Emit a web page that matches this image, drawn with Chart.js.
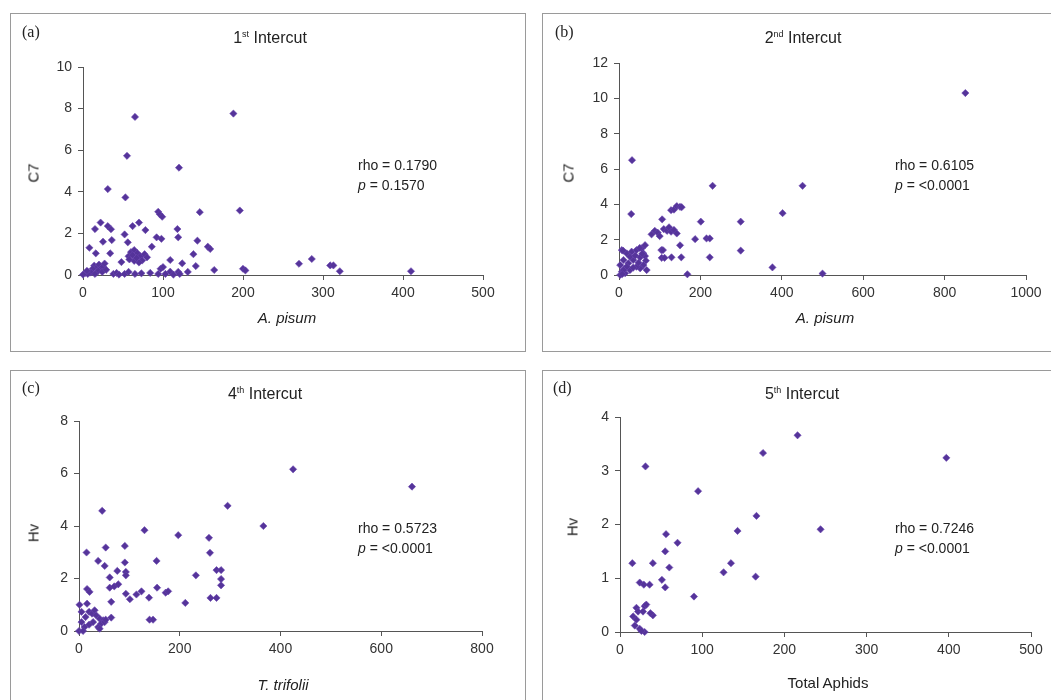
<!DOCTYPE html>
<html>
<head>
<meta charset="utf-8">
<script src="https://cdn.jsdelivr.net/npm/chart.js@4.4.0/dist/chart.umd.min.js"></script>
<style>
    body { margin: 0; background: #fff; width: 1051px; height: 700px; overflow: hidden; position: relative;
           font-family: "Liberation Sans", Arial, sans-serif; color: #222; }
    .panel { position: absolute; border: 1px solid #9a9a9a; overflow: hidden; }
    .panel canvas { position: absolute; left: 0; top: 0; }
    .tag { position: absolute; font-family: "Liberation Serif", serif; font-size: 16px; line-height: 20px; }
    .ttl { position: absolute; font-size: 16px; line-height: 20px; white-space: nowrap; transform: translateX(-50%); }
    .ttl sup { font-size: 9px; vertical-align: 6px; }
    .stat { position: absolute; font-size: 14px; line-height: 20px; white-space: nowrap; }
    .ytl { position: absolute; font-size: 15px; white-space: nowrap; transform: translate(-50%, -50%) rotate(-90deg); }
    .xtl { position: absolute; font-size: 15px; line-height: 20px; white-space: nowrap; transform: translateX(-50%); }
</style>
</head>
<body>

<div class="panel" id="pa" style="left:10px;top:13px;width:514px;height:337px">
    <canvas id="chartA" width="514" height="337"></canvas>
    <div class="tag" style="left:11px;top:8px">(a)</div>
    <div class="ttl" style="left:259px;top:10px">1<sup>st</sup> Intercut</div>
    <div class="ytl" style="left:22px;top:159px">C7</div>
    <div class="xtl" style="left:276px;top:294px"><i>A. pisum</i></div>
    <div class="stat" style="left:347px;top:141px">rho = 0.1790<br><i>p</i> = 0.1570</div>
</div>

<div class="panel" id="pb" style="left:542px;top:13px;width:518px;height:337px">
    <canvas id="chartB" width="518" height="337"></canvas>
    <div class="tag" style="left:12px;top:8px">(b)</div>
    <div class="ttl" style="left:260px;top:10px">2<sup>nd</sup> Intercut</div>
    <div class="ytl" style="left:25px;top:159px">C7</div>
    <div class="xtl" style="left:282px;top:294px"><i>A. pisum</i></div>
    <div class="stat" style="left:352px;top:141px">rho = 0.6105<br><i>p</i> = &lt;0.0001</div>
</div>

<div class="panel" id="pc" style="left:10px;top:370px;width:514px;height:340px">
    <canvas id="chartC" width="514" height="340"></canvas>
    <div class="tag" style="left:11px;top:7px">(c)</div>
    <div class="ttl" style="left:254px;top:9px">4<sup>th</sup> Intercut</div>
    <div class="ytl" style="left:22px;top:162px">Hv</div>
    <div class="xtl" style="left:272px;top:304px"><i>T. trifolii</i></div>
    <div class="stat" style="left:347px;top:147px">rho = 0.5723<br><i>p</i> = &lt;0.0001</div>
</div>

<div class="panel" id="pd" style="left:542px;top:370px;width:518px;height:340px">
    <canvas id="chartD" width="518" height="340"></canvas>
    <div class="tag" style="left:10px;top:7px">(d)</div>
    <div class="ttl" style="left:259px;top:9px">5<sup>th</sup> Intercut</div>
    <div class="ytl" style="left:29px;top:156px">Hv</div>
    <div class="xtl" style="left:285px;top:302px">Total Aphids</div>
    <div class="stat" style="left:352px;top:147px">rho = 0.7246<br><i>p</i> = &lt;0.0001</div>
</div>

<script>
// (a) 1st intercut: A. pisum vs C7
const pisumA = [65, 188, 55, 120, 31, 53, 146, 196, 94, 96, 99, 15, 22, 31, 35, 62, 70, 78, 52, 56,
    36, 25, 92, 98, 118, 119, 143, 156, 159, 8, 16, 34, 86, 138, 109, 124, 141, 164, 57, 60,
    64, 68, 72, 74, 70, 64, 58, 62, 77, 80, 67, 48, 14, 17, 20, 22, 25, 27, 19, 24,
    29, 12, 10, 3, 6, 15, 38, 42, 45, 52, 57, 65, 73, 84, 94, 97, 100, 103, 109, 113,
    119, 121, 131, 0, 5, 200, 203, 270, 286, 309, 313, 321, 410];
const c7A = [7.6, 7.76, 5.73, 5.16, 4.13, 3.73, 3.02, 3.1, 3.04, 2.92, 2.8, 2.21, 2.52, 2.35, 2.2, 2.35, 2.52, 2.16, 1.95, 1.57,
    1.68, 1.6, 1.81, 1.74, 2.21, 1.81, 1.65, 1.36, 1.25, 1.31, 1.04, 1.04, 1.36, 1.0, 0.72, 0.56, 0.43, 0.24, 0.9, 1.1,
    1.2, 1.05, 0.9, 0.7, 0.6, 0.68, 0.75, 0.95, 1.0, 0.85, 0.82, 0.62, 0.45, 0.35, 0.5, 0.3, 0.4, 0.55, 0.2, 0.15,
    0.25, 0.3, 0.12, 0.1, 0.05, 0.05, 0.05, 0.1, 0.02, 0.05, 0.15, 0.05, 0.08, 0.1, 0.05, 0.3, 0.38, 0.05, 0.16, 0.02,
    0.15, 0.05, 0.15, 0.02, 0.2, 0.3, 0.22, 0.54, 0.77, 0.46, 0.46, 0.18, 0.18];

// (b) 2nd intercut: A. pisum vs C7
const pisumB = [851, 32, 30, 230, 451, 402, 201, 299, 299, 187, 215, 223, 223, 377, 500, 168, 150, 129, 153, 104,
    108, 105, 112, 106, 128, 135, 142, 150, 154, 80, 88, 95, 100, 110, 118, 123, 128, 135, 142, 7,
    19, 31, 43, 56, 64, 60, 52, 64, 66, 60, 52, 68, 43, 35, 27, 11, 23, 3, 15, 27,
    7, 3, 15, 19, 11, 35, 48, 10, 51, 57, 40, 8];
const c7B = [10.3, 6.5, 3.45, 5.05, 5.05, 3.5, 3.02, 3.02, 1.38, 2.03, 2.07, 2.07, 1.0, 0.43, 0.08, 0.04, 1.68, 1.0, 1.0, 1.41,
    1.41, 0.97, 0.97, 3.15, 3.67, 3.7, 3.9, 3.86, 3.84, 2.3, 2.5, 2.4, 2.2, 2.6, 2.5, 2.7, 2.45, 2.55, 2.35, 1.41,
    1.22, 1.32, 1.41, 1.51, 1.69, 1.22, 1.0, 1.07, 0.81, 0.56, 0.38, 0.28, 0.47, 0.85, 1.03, 0.85, 0.66, 0.56, 0.38, 0.28,
    0.19, 0, 0.1, 0.47, 0.28, 0.42, 0.7, 1.38, 1.53, 1.2, 1.1, 0.05];

// (c) 4th intercut: T. trifolii vs Hv
const trifoliiC = [425, 661, 295, 366, 46, 130, 197, 258, 260, 15, 53, 91, 91, 38, 51, 154, 76, 93, 93, 61,
    232, 273, 282, 282, 282, 16, 21, 61, 70, 78, 93, 101, 114, 124, 139, 155, 172, 177, 211, 261,
    273, 64, 64, 140, 147, 1, 5, 16, 20, 26, 31, 34, 41, 48, 44, 38, 41, 51, 5, 11,
    0, 8, 20, 28, 13, 53];
const hvC = [6.16, 5.5, 4.77, 4.0, 4.58, 3.84, 3.65, 3.55, 2.98, 2.99, 3.18, 3.24, 2.61, 2.67, 2.48, 2.67, 2.29, 2.25, 2.12, 2.04,
    2.12, 2.32, 2.32, 1.98, 1.74, 1.6, 1.49, 1.65, 1.7, 1.78, 1.42, 1.21, 1.39, 1.51, 1.27, 1.65, 1.46, 1.51, 1.07, 1.26,
    1.26, 1.11, 0.51, 0.43, 0.43, 1.0, 0.73, 1.04, 0.73, 0.66, 0.79, 0.6, 0.47, 0.41, 0.28, 0.15, 0.09, 0.34, 0.34, 0.15,
    0, 0, 0.24, 0.34, 0.53, 0.43];

// (d) 5th intercut: total aphids vs Hv
const totalD = [216, 174, 397, 31, 95, 166, 143, 244, 56, 70, 55, 15, 40, 60, 135, 126, 165, 90, 24, 29,
    36, 51, 55, 30, 32, 40, 37, 20, 22, 16, 20, 18, 24, 30, 26, 28];
const hvD = [3.66, 3.33, 3.24, 3.08, 2.62, 2.16, 1.88, 1.91, 1.82, 1.66, 1.5, 1.28, 1.28, 1.2, 1.28, 1.11, 1.03, 0.66, 0.92, 0.88,
    0.88, 0.97, 0.83, 0.48, 0.51, 0.31, 0.35, 0.45, 0.38, 0.29, 0.23, 0.12, 0.06, 0.0, 0.02, 0.38];

const YW = 40;   // fixed y axis width
const XH = 30;   // fixed x axis height

function makeScatter(id, xs, ys, xMax, xStep, yMax, yStep, area) {
    const canvas = document.getElementById(id);
    const W = canvas.width, H = canvas.height;
    const points = xs.map((x, i) => ({ x: x, y: ys[i] }));
    const axisCommon = {
        grid: { display: true, drawOnChartArea: false, drawTicks: true, tickLength: 5, color: '#555' },
        border: { display: true, color: '#555', width: 1 }
    };
    return new Chart(canvas.getContext('2d'), {
        type: 'scatter',
        data: {
            datasets: [{
                data: points,
                pointStyle: 'rectRot',
                pointRadius: 3.6,
                backgroundColor: '#55349a',
                borderColor: '#6a45b0',
                borderWidth: 0.6,
                clip: false
            }]
        },
        options: {
            responsive: false,
            animation: false,
            events: [],
            layout: {
                padding: { left: area.L - YW, top: area.T, right: W - area.R, bottom: H - area.B - XH }
            },
            plugins: { legend: { display: false }, tooltip: { enabled: false } },
            scales: {
                x: {
                    ...axisCommon,
                    type: 'linear',
                    min: 0, max: xMax,
                    ticks: {
                        stepSize: xStep, color: '#333', padding: 5, maxRotation: 0,
                        font: { family: 'Liberation Sans', size: 14 },
                        callback: v => String(v)
                    },
                    afterFit: s => { s.height = XH; }
                },
                y: {
                    ...axisCommon,
                    type: 'linear',
                    min: 0, max: yMax,
                    ticks: {
                        stepSize: yStep, color: '#333', padding: 6,
                        font: { family: 'Liberation Sans', size: 14 },
                        callback: v => String(v)
                    },
                    afterFit: s => { s.width = YW; }
                }
            }
        }
    });
}

makeScatter('chartA', pisumA, c7A, 500, 100, 10, 2, { L: 72, R: 472, T: 53, B: 261 });
makeScatter('chartB', pisumB, c7B, 1000, 200, 12, 2, { L: 76, R: 483, T: 49, B: 261 });
makeScatter('chartC', trifoliiC, hvC, 800, 200, 8, 2, { L: 68, R: 471, T: 50, B: 260 });
makeScatter('chartD', totalD, hvD, 500, 100, 4, 1, { L: 77, R: 488, T: 46, B: 261 });
</script>
</body>
</html>
